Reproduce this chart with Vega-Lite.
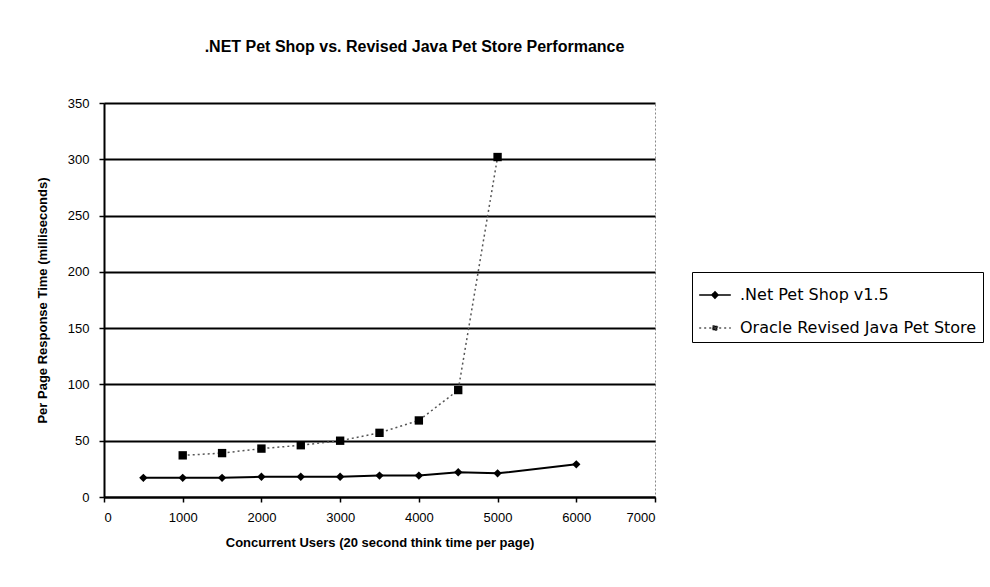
{
  "$schema": "https://vega.github.io/schema/vega-lite/v6.json",
  "autosize": "none",
  "width": 551,
  "height": 394,
  "padding": {"left": 104, "top": 103, "right": 335, "bottom": 90},
  "background": "white",
  "title": {
    "text": ".NET Pet Shop vs. Revised Java Pet Store Performance",
    "font": "Liberation Sans",
    "fontSize": 16,
    "fontWeight": "bold",
    "color": "black",
    "anchor": "middle",
    "offset": 42,
    "dx": 35
  },
  "data": {
    "values": [
      {"users": 500, "time": 17, "series": ".Net Pet Shop v1.5"},
      {"users": 1000, "time": 17, "series": ".Net Pet Shop v1.5"},
      {"users": 1500, "time": 17, "series": ".Net Pet Shop v1.5"},
      {"users": 2000, "time": 18, "series": ".Net Pet Shop v1.5"},
      {"users": 2500, "time": 18, "series": ".Net Pet Shop v1.5"},
      {"users": 3000, "time": 18, "series": ".Net Pet Shop v1.5"},
      {"users": 3500, "time": 19, "series": ".Net Pet Shop v1.5"},
      {"users": 4000, "time": 19, "series": ".Net Pet Shop v1.5"},
      {"users": 4500, "time": 22, "series": ".Net Pet Shop v1.5"},
      {"users": 5000, "time": 21, "series": ".Net Pet Shop v1.5"},
      {"users": 6000, "time": 29, "series": ".Net Pet Shop v1.5"},
      {"users": 1000, "time": 37, "series": "Oracle Revised Java Pet Store"},
      {"users": 1500, "time": 39, "series": "Oracle Revised Java Pet Store"},
      {"users": 2000, "time": 43, "series": "Oracle Revised Java Pet Store"},
      {"users": 2500, "time": 46, "series": "Oracle Revised Java Pet Store"},
      {"users": 3000, "time": 50, "series": "Oracle Revised Java Pet Store"},
      {"users": 3500, "time": 57, "series": "Oracle Revised Java Pet Store"},
      {"users": 4000, "time": 68, "series": "Oracle Revised Java Pet Store"},
      {"users": 4500, "time": 95, "series": "Oracle Revised Java Pet Store"},
      {"users": 5000, "time": 302, "series": "Oracle Revised Java Pet Store"}
    ]
  },
  "encoding": {
    "x": {
      "field": "users", "type": "quantitative",
      "scale": {"domain": [0, 7000], "nice": false},
      "axis": {
        "title": "Concurrent Users (20 second think time per page)",
        "values": [0, 1000, 2000, 3000, 4000, 5000, 6000, 7000],
        "format": "d",
        "grid": false,
        "labelPadding": 9,
        "titlePadding": 12
      }
    },
    "y": {
      "field": "time", "type": "quantitative",
      "scale": {"domain": [0, 350], "nice": false},
      "axis": {
        "title": "Per Page Response Time (milliseconds)",
        "values": [0, 50, 100, 150, 200, 250, 300, 350],
        "grid": true,
        "gridColor": "black",
        "gridWidth": 2,
        "gridOpacity": 1,
        "labelPadding": 10,
        "titlePadding": 18
      }
    }
  },
  "layer": [
    {
      "transform": [{"filter": "datum.series == '.Net Pet Shop v1.5'"}],
      "mark": {"type": "line", "strokeWidth": 2},
      "encoding": {
        "color": {
          "field": "series", "type": "nominal",
          "scale": {"domain": [".Net Pet Shop v1.5", "Oracle Revised Java Pet Store"], "range": ["black", "#555555"]},
          "legend": {
            "title": null,
            "orient": "none",
            "legendX": 588,
            "legendY": 169,
            "strokeColor": "black",
            "padding": 6,
            "fillColor": "white",
            "labelFont": "DejaVu Sans",
            "labelFontSize": 16,
            "labelColor": "black",
            "labelLimit": 400,
            "labelOffset": 8,
            "symbolSize": 1000,
            "symbolStrokeWidth": 1.5,
            "rowPadding": 8,
            "encode": {
              "symbols": {
                "update": {
                  "shape": {"signal": "datum.label == '.Net Pet Shop v1.5' ? 'M-1,0H1M0,-0.2L0.2,0L0,0.2L-0.2,0Z' : 'M-1,0H1M-0.15,-0.15H0.15V0.15H-0.15Z'"},
                  "fill": {"value": "black"},
                  "stroke": {"value": "black"},
                  "strokeDash": {"signal": "datum.label == '.Net Pet Shop v1.5' ? [1, 0] : [2, 3]"}
                }
              }
            }
          }
        }
      }
    },
    {
      "transform": [{"filter": "datum.series != '.Net Pet Shop v1.5'"}],
      "mark": {"type": "line", "strokeWidth": 1.5, "strokeDash": [2, 3]},
      "encoding": {
        "color": {"field": "series", "type": "nominal"}
      }
    },
    {
      "mark": {"type": "point", "filled": true, "size": 70, "opacity": 1, "color": "black"},
      "encoding": {
        "shape": {
          "field": "series", "type": "nominal",
          "scale": {"range": ["diamond", "square"]},
          "legend": null
        }
      }
    }
  ],
  "config": {
    "view": {"stroke": "#888888", "strokeDash": [2, 2], "strokeWidth": 1},
    "axis": {
      "labelFont": "Liberation Sans",
      "labelFontSize": 13,
      "labelColor": "black",
      "titleFont": "Liberation Sans",
      "titleFontSize": 13,
      "titleFontWeight": "bold",
      "titleColor": "black",
      "domainColor": "black",
      "domainWidth": 2,
      "tickColor": "black",
      "tickWidth": 1.5,
      "tickSize": 5
    }
  }
}
